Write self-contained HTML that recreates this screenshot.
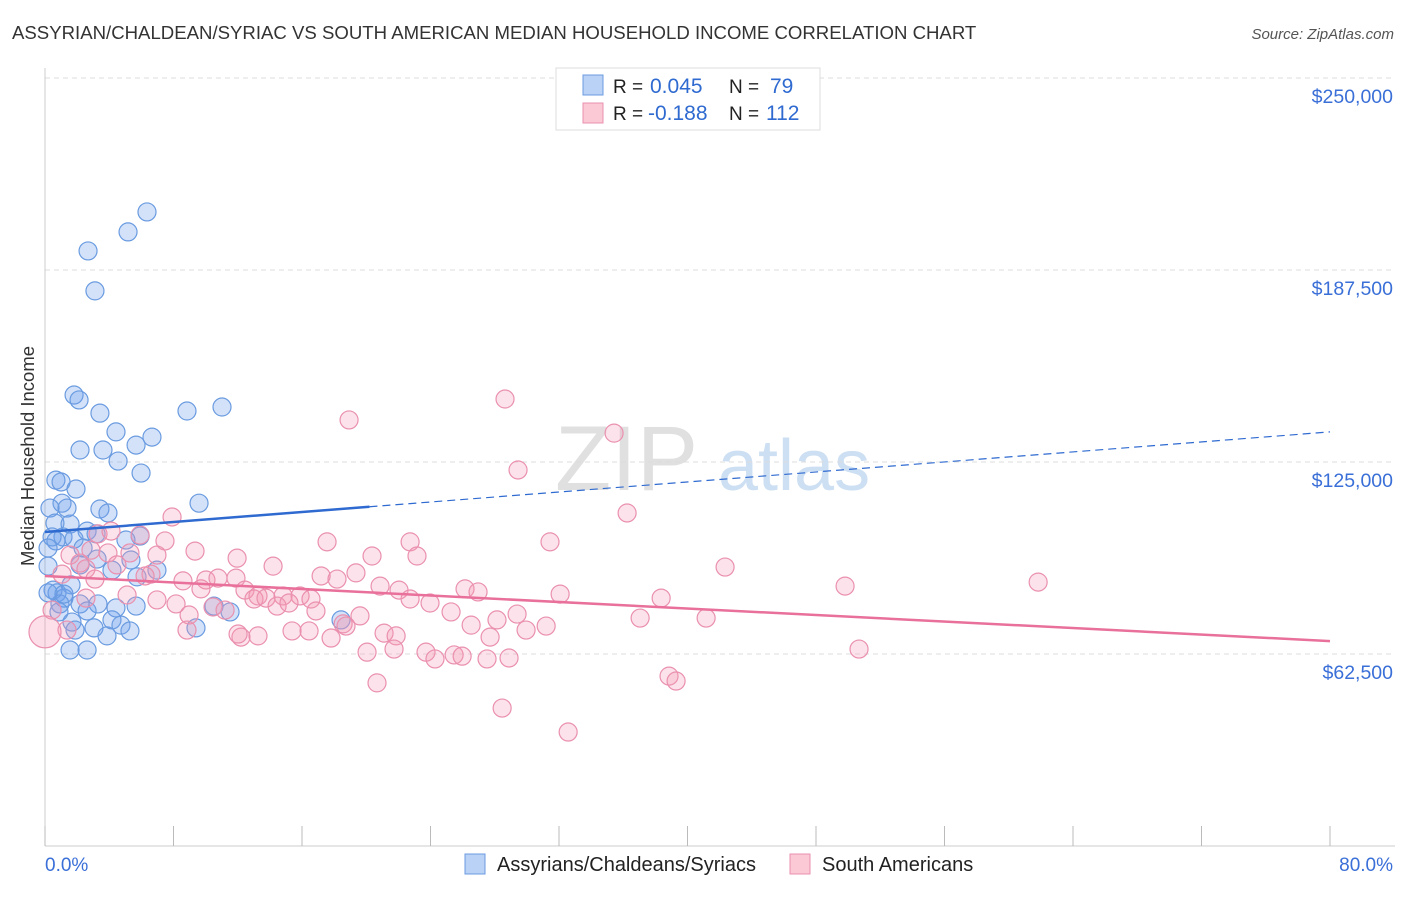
<!DOCTYPE html>
<html><head><meta charset="utf-8"><style>
body{margin:0;background:#fff;font-family:"Liberation Sans",sans-serif;}
svg text{font-family:"Liberation Sans",sans-serif;}
</style></head><body>
<svg id="chart" width="1406" height="892" xmlns="http://www.w3.org/2000/svg">
<text x="12" y="39" font-size="18.6" fill="#333">ASSYRIAN/CHALDEAN/SYRIAC VS SOUTH AMERICAN MEDIAN HOUSEHOLD INCOME CORRELATION CHART</text>
<text x="1394" y="39" font-size="15" fill="#555" text-anchor="end" font-style="italic">Source: ZipAtlas.com</text>
<g><text x="555" y="490" font-size="92" fill="#e0e0e0" font-family="Liberation Serif">ZIP</text><text x="718" y="490" font-size="72" fill="#cddff2">atlas</text></g>
<text transform="translate(34,456) rotate(-90)" font-size="18.5" fill="#333" text-anchor="middle">Median Household Income</text>
<g id="grid"></g><g id="ticks"></g><g id="pts"></g><g id="trends"></g>
<g>
<rect x="556" y="68" width="264" height="62" fill="#fff" stroke="#ddd"/>
<rect x="583" y="75" width="20" height="20" fill="#b9d2f5" stroke="#6a9be0"/>
<rect x="583" y="103" width="20" height="20" fill="#fbc8d6" stroke="#ea90ae"/>
<text x="613" y="93" font-size="19" fill="#222">R = <tspan x="650" font-size="21" fill="#2f6ad0">0.045</tspan></text>
<text x="729" y="93" font-size="19" fill="#222">N = <tspan x="770" font-size="21" fill="#2f6ad0">79</tspan></text>
<text x="613" y="120" font-size="19" fill="#222">R = <tspan x="648" font-size="21" fill="#2f6ad0">-0.188</tspan></text>
<text x="729" y="120" font-size="19" fill="#222">N = <tspan x="766" font-size="21" fill="#2f6ad0">112</tspan></text>
</g>
<g>
<rect x="465" y="854" width="20" height="20" fill="#b9d2f5" stroke="#6a9be0"/>
<text x="497" y="871" font-size="20" fill="#222">Assyrians/Chaldeans/Syriacs</text>
<rect x="790" y="854" width="20" height="20" fill="#fbc8d6" stroke="#ea90ae"/>
<text x="822" y="871" font-size="20" fill="#222">South Americans</text>
</g>
<text x="45" y="871" font-size="19" fill="#3a6fd8">0.0%</text>
<text x="1393" y="871" font-size="19" fill="#3a6fd8" text-anchor="end">80.0%</text>
</svg>
<script>
const yTicks=[62.5,125,187.5,250];
const yTickLabels=["$62,500","$125,000","$187,500","$250,000"];
const xTicks=[0,8,16,24,32,40,48,56,64,72,80];
const blueX=[6.35,5.17,2.68,3.11,1.81,2.12,3.42,8.84,11.02,6.66,4.42,2.18,3.61,5.67,4.55,5.98,0.68,1.0,1.93,1.06,1.37,3.42,3.92,9.59,0.31,0.62,1.56,2.62,3.18,1.12,0.44,5.92,5.04,0.68,1.81,0.19,2.37,3.24,5.35,4.17,6.97,5.73,2.18,0.19,1.62,0.75,1.18,2.18,3.3,5.67,4.42,2.62,10.52,11.52,0.93,1.68,4.17,4.73,1.87,3.05,5.29,3.86,9.4,18.43,1.56,2.62,0.5,1.18,0.19,0.87];
const blueY=[206.4,199.9,193.7,180.7,146.8,145.2,140.9,141.6,142.9,133.1,134.8,128.9,128.9,130.5,125.3,121.4,119.1,118.5,116.2,111.6,110,109.7,108.4,111.6,110,105.1,104.8,102.5,101.6,100.6,100.6,100.9,99.6,99.3,99.9,97,97,93.4,93.1,89.8,89.8,87.6,91.5,91.1,85,82.4,80.7,78.8,78.8,78.1,77.5,76.5,78.1,76.2,78.8,72.9,73.6,71.9,70.3,71,70,68.4,71,73.6,63.8,63.8,83.3,82,82.4,76.2];
const pinkX=[18.93,28.64,35.43,29.45,36.24,7.91,3.3,4.11,5.92,7.47,17.56,22.73,31.44,9.34,11.96,20.36,23.16,2.86,1.56,5.29,2.18,3.92,6.97,2.55,1.06,14.2,17.19,18.18,19.36,42.34,61.83,49.81,6.6,4.48,8.59,10.02,10.77,11.89,9.71,12.45,20.86,22.04,26.15,26.96,13.26,14.82,15.88,13.01,13.76,16.56,22.73,23.97,32.07,38.36,5.11,6.97,8.16,10.46,11.21,14.45,15.19,16.87,19.61,25.28,29.39,28.14,31.2,37.05,41.16,8.97,8.84,15.38,18.56,18.74,21.11,21.86,26.53,27.71,29.95,12.2,13.26,16.44,17.81,20.05,21.73,23.72,24.28,25.47,25.97,27.52,28.89,50.68,38.85,39.29,20.67,28.46,32.57,12.02,2.55,0.44,1.37,6.23,3.11];
const pinkY=[138.7,145.5,134.4,122.4,108.4,107.1,101.6,102.5,101.2,99.3,99,99,99,96,93.7,94.4,94.4,96.3,94.7,95.4,92.1,95.4,94.7,90.2,88.5,91.1,87.9,86.9,88.9,90.8,85.9,84.6,88.5,91.5,86.3,86.6,87.2,87.2,83.7,83.3,84.6,83.3,83.7,82.7,81.4,81.4,81.4,80.4,80.7,80.4,80.4,79.1,82,80.7,81.7,80.1,78.8,77.8,76.8,78.1,79.1,76.5,74.9,76.2,75.5,73.6,71.6,74.2,74.2,75.2,70.3,70,72.3,71.6,69.3,68.4,71.9,68,70.3,68,68.4,70,67.7,63.1,64.1,63.1,60.9,62.2,61.8,60.9,61.2,64.1,55.3,53.7,53.1,44.9,37.1,69,80.7,76.8,70.3,87.9,86.9];
const bigPink=[0,69.7];
const blueTrend=[102.2,134.8];
const pinkTrend=[87.9,66.7];
const NS="http://www.w3.org/2000/svg";
const X=v=>45+v/80*1285;
const Y=v=>846-v/62.5*192;
function mk(tag,attrs,parent){const e=document.createElementNS(NS,tag);for(const k in attrs)e.setAttribute(k,attrs[k]);parent.appendChild(e);return e;}
const grid=document.getElementById('grid'),ticks=document.getElementById('ticks'),pts=document.getElementById('pts'),tr=document.getElementById('trends');
yTicks.forEach((t,i)=>{
 const l=mk('line',{x1:45,x2:1395,y1:Y(t),y2:Y(t),stroke:'#ddd','stroke-dasharray':'5,4'},grid);
 
 
 const tx=mk('text',{x:1393,y:Y(t)+25,'font-size':19.5,fill:'#3a6fd8','text-anchor':'end'},ticks);
 tx.textContent=yTickLabels[i];
 
 
});
const ax=mk('line',{x1:45,x2:45,y1:68,y2:846,stroke:'#ccc'},ticks);


const bx=mk('line',{x1:45,x2:1395,y1:846,y2:846,stroke:'#ccc'},ticks);


xTicks.forEach(t=>{
 const l=mk('line',{x1:X(t),x2:X(t),y1:826,y2:846,stroke:'#bbb'},ticks);
 
 
});
blueX.forEach((x,i)=>{
 const c=mk('circle',{cx:X(x),cy:Y(blueY[i]),r:9,fill:'rgba(110,160,235,0.3)',stroke:'#6a9be0','stroke-width':1.2},pts);
 
 
});
pinkX.forEach((x,i)=>{
 const c=mk('circle',{cx:X(x),cy:Y(pinkY[i]),r:9,fill:'rgba(245,150,180,0.28)',stroke:'#ea90ae','stroke-width':1.2},pts);
 
 
});
const bp=mk('circle',{cx:X(bigPink[0]),cy:Y(bigPink[1]),r:16,fill:'rgba(245,150,180,0.3)',stroke:'#ea90ae','stroke-width':1.2},pts);


const bAt=x=>blueTrend[0]+(blueTrend[1]-blueTrend[0])*x/80;
const b1=mk('line',{x1:X(0),y1:Y(bAt(0)),x2:X(20.2),y2:Y(bAt(20.2)),stroke:'#2f6ad0','stroke-width':2.5},tr);


const b2=mk('line',{x1:X(20.2),y1:Y(bAt(20.2)),x2:X(80),y2:Y(bAt(80)),stroke:'#2f6ad0','stroke-width':1.2,'stroke-dasharray':'8,5'},tr);


const p1=mk('line',{x1:X(0),y1:Y(pinkTrend[0]),x2:X(80),y2:Y(pinkTrend[1]),stroke:'#e8709a','stroke-width':2.5},tr);


</script>
</body></html>
